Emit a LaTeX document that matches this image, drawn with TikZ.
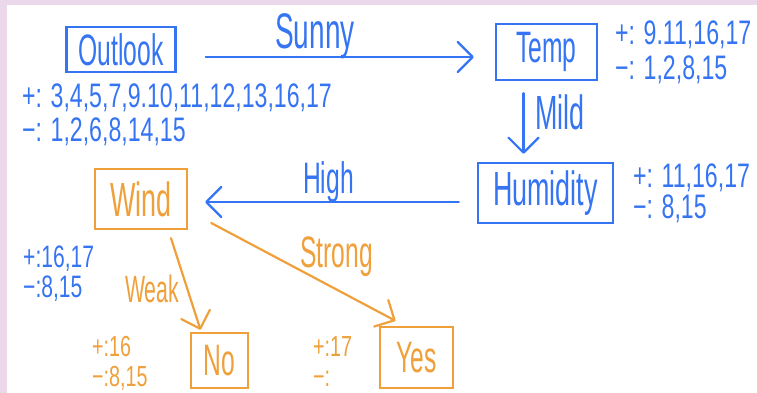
\documentclass[tikz,border=0pt]{standalone}
\usepackage{fontspec}
\newfontfamily\hand{Liberation Sans}[FakeStretch=0.56]
\newfontfamily\handnum{Liberation Sans}[FakeStretch=0.68]
\usetikzlibrary{arrows.meta}
\definecolor{penblue}{HTML}{3574F2}
\definecolor{penorange}{HTML}{F0A03A}
\definecolor{marginpink}{HTML}{EBD9EB}

\begin{document}
\begin{tikzpicture}[x=1pt,y=-1pt,
  box/.style={draw, line width=2.4pt, inner sep=0pt,
    font=\hand\fontsize{44}{44}\selectfont},
  arr/.style={line width=2.2pt, line cap=round,
    -{Straight Barb[length=15pt,width=30pt,round]}},
  lab/.style={inner sep=0pt, anchor=base west,
    font=\hand\fontsize{44}{44}\selectfont},
  cases/.style={inner sep=0pt, anchor=base west, align=left,
    font=\handnum\fontsize{34}{#1}\selectfont},
  cases/.default=33,
  smallcases/.style={font=\handnum\fontsize{#1}{30}\selectfont}
]
\useasboundingbox (0,0) rectangle (757,393);
\fill[white] (0,0) rectangle (757,393);
\fill[marginpink] (0,0) rectangle (757,5);
\fill[marginpink] (0,0) rectangle (7,393);

% decision nodes
\node[box, penblue, minimum width=109pt, minimum height=45pt] (outlook) at (121,49.5) {Outlook};
\node[box, penblue, minimum width=101pt, minimum height=56pt] (temp) at (546.5,52) {Temp};
\node[box, penblue, minimum width=135pt, minimum height=60pt,
  font=\hand\fontsize{48}{48}\selectfont] (humidity) at (545.5,193) {Humidity};
\node[box, penorange, minimum width=92pt, minimum height=60pt,
  font=\hand\fontsize{48}{48}\selectfont] (wind) at (141,199) {Wind};
\node[box, penorange, minimum width=57pt, minimum height=55pt] (no) at (219.5,360.5) {No};
\node[box, penorange, minimum width=73pt, minimum height=61pt] (yes) at (416.5,357.5) {Yes};

% branches
\draw[arr, penblue] ([shift={(29,7.5)}]outlook.east) -- ([shift={(-21,5)}]temp.west);
\draw[arr, penblue] ([shift={(-23,12)}]temp.south) -- ([shift={(-22,-8)}]humidity.north);
\draw[arr, penblue] ([shift={(-18,9)}]humidity.west) -- ([shift={(17,3)}]wind.east);
\draw[arr, penorange] ([shift={(30,8)}]wind.south) -- ([shift={(-19,-2)}]no.north);
\draw[arr, penorange] ([shift={(23,24)}]wind.east) -- ([shift={(-21,-5)}]yes.north);

% branch labels
\node[lab, penblue, font=\hand\fontsize{50}{50}\selectfont] (lsunny) at (275,49) {Sunny};
\node[lab, penblue, font=\hand\fontsize{48}{48}\selectfont] (lmild) at (535,129) {Mild};
\node[lab, penblue] (lhigh) at (303,193) {High};
\node[lab, penorange, font=\hand\fontsize{38}{38}\selectfont] (lweak) at (125,302) {Weak};
\node[lab, penorange] (lstrong) at (300,267) {Strong};

% positive / negative examples at each node (anchored at the last line)
\node[cases, penblue] (coutlook) at (22,141) {+: 3,4,5,7,9.10,11,12,13,16,17\\−: 1,2,6,8,14,15};
\node[cases=35, penblue] (ctemp) at (615,80) {+: 9.11,16,17\\−: 1,2,8,15};
\node[cases=31, penblue] (chumidity) at (633,218) {+: 11,16,17\\−: 8,15};
\node[cases, penblue, smallcases=31] (cwind) at (23,297) {+:16,17\\−:8,15};
\node[cases, penorange, smallcases=29] (cno) at (92,386) {+:16\\−:8,15};
\node[cases, penorange, smallcases=29] (cyes) at (313,386) {+:17\\−:};
\end{tikzpicture}
\end{document}
